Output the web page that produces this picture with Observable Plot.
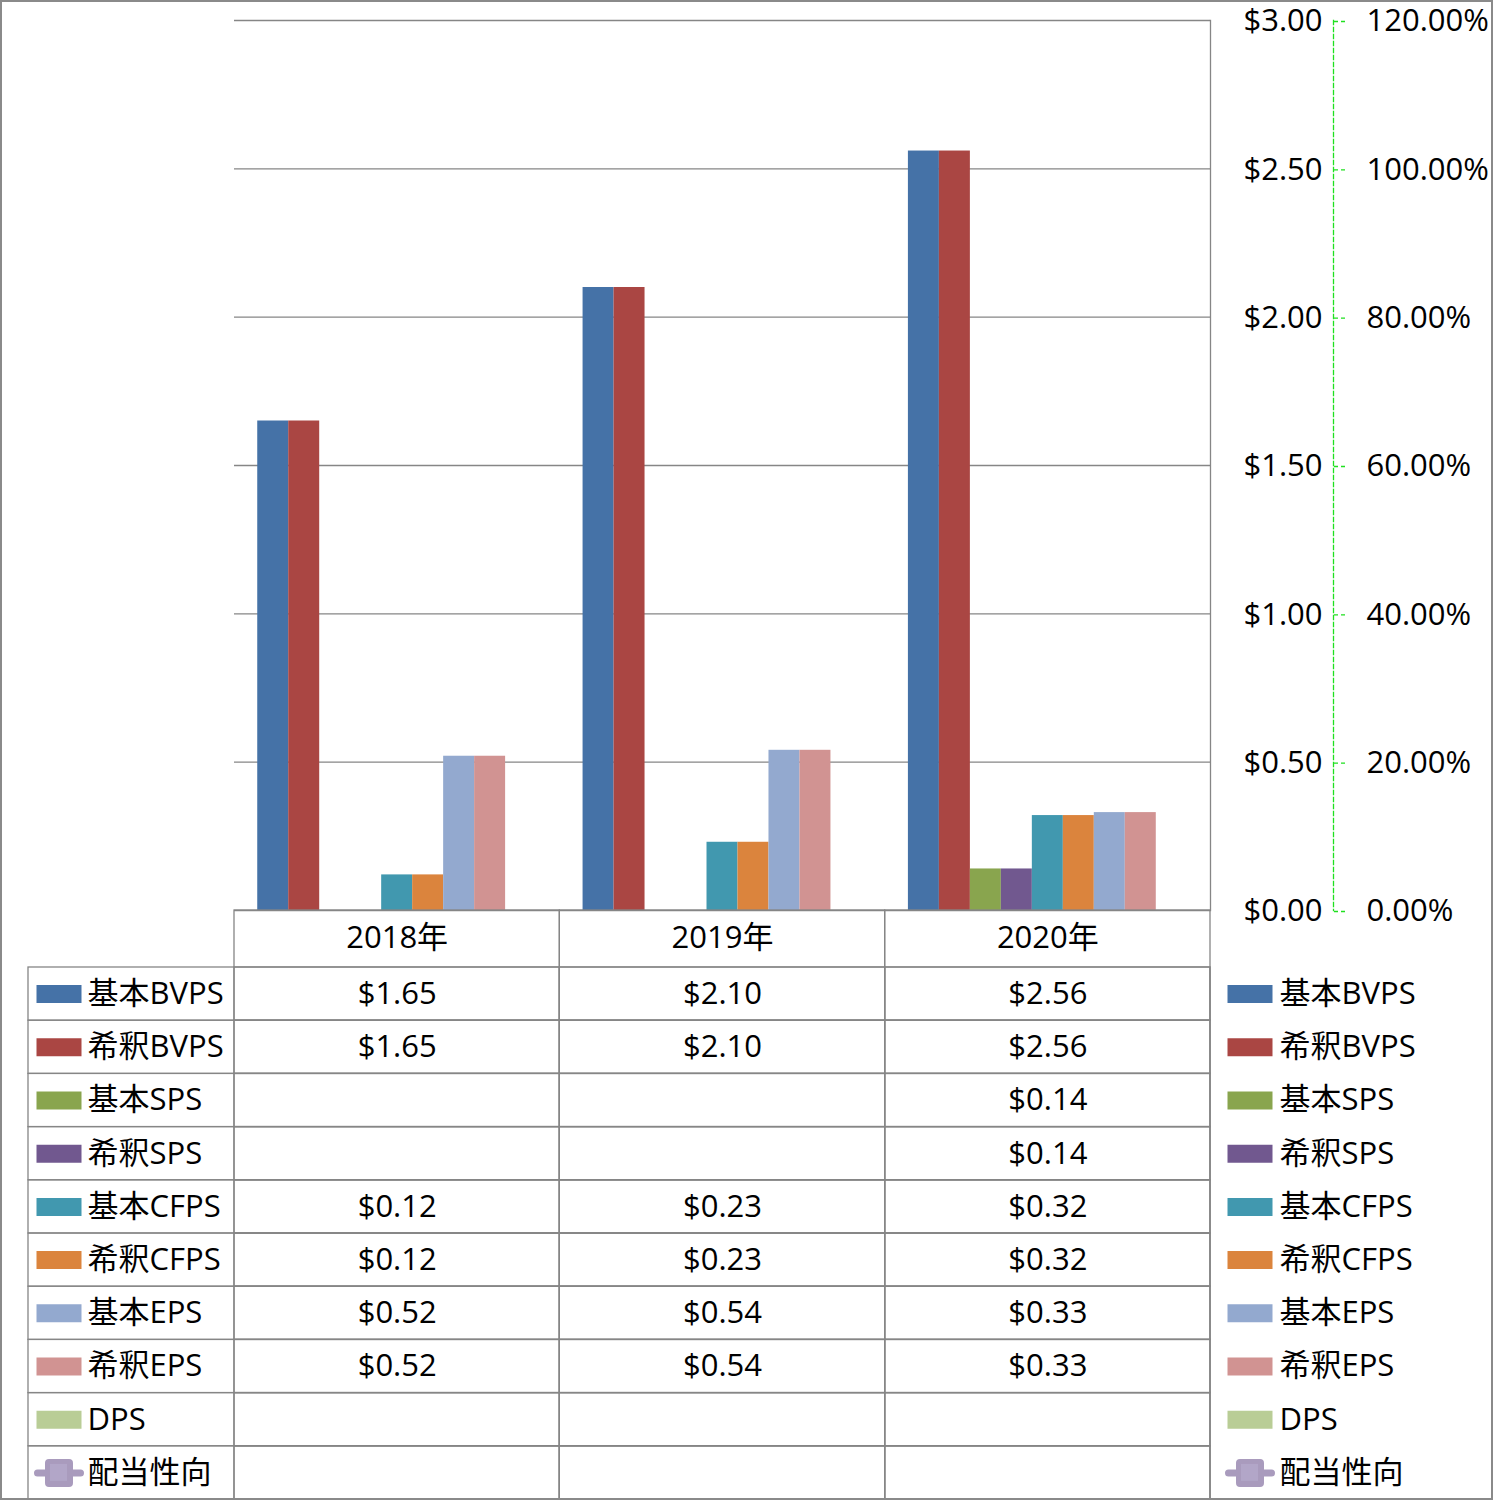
<!DOCTYPE html>
<html><head><meta charset="utf-8">
<script src="https://cdn.jsdelivr.net/npm/d3@7"></script>
<script src="https://cdn.jsdelivr.net/npm/@observablehq/plot@0.6"></script>
<style>
body{margin:0;background:#fff;}
#wrap{position:relative;width:1493px;height:1500px;overflow:hidden;background:#fff;font-family:"Open Sans","Noto Sans CJK JP",sans-serif;}
#wrap svg{position:absolute;left:0;top:0;overflow:visible;}
#border{position:absolute;left:0;top:0;width:1493px;height:1500px;box-sizing:border-box;border:2px solid #8a8a8a;pointer-events:none;z-index:10;}
</style></head><body><div id="wrap"><div id="border"></div></div>
<script>
// ---- data ----
const years = ["2018年", "2019年", "2020年"];
const seriesNames = ["基本BVPS", "希釈BVPS", "基本SPS", "希釈SPS", "基本CFPS", "希釈CFPS", "基本EPS", "希釈EPS", "DPS", "配当性向"];
const barSeries = ["基本BVPS", "希釈BVPS", "基本SPS", "希釈SPS", "基本CFPS", "希釈CFPS", "基本EPS", "希釈EPS", "DPS"];
const seriesColors = ["#4572A7", "#AA4643", "#89A54E", "#71588F", "#4198AF", "#DB843D", "#93A9CF", "#D19392", "#B9CD96", "#A99BBD"];
const basicBVPS = [1.65, 2.10, 2.56];
const dilutedBVPS = [1.65, 2.10, 2.56];
const basicSPS = [null, null, 0.14];
const dilutedSPS = [null, null, 0.14];
const basicCFPS = [0.12, 0.23, 0.32];
const dilutedCFPS = [0.12, 0.23, 0.32];
const basicEPS = [0.52, 0.54, 0.33];
const dilutedEPS = [0.52, 0.54, 0.33];
const dps = [null, null, null];
const payoutRatio = [null, null, null];
const dollarTicks = [0, 0.5, 1, 1.5, 2, 2.5, 3];
const percentTicks = [0, 0.2, 0.4, 0.6, 0.8, 1.0, 1.2];
const percentToDollar = 2.5; // secondary axis max 120% aligns with $3.00

const seriesValues = [basicBVPS, dilutedBVPS, basicSPS, dilutedSPS, basicCFPS, dilutedCFPS, basicEPS, dilutedEPS, dps, payoutRatio];
const tableData = [];
seriesNames.forEach((s, i) => years.forEach((y, j) => {
  const v = seriesValues[i][j];
  if (v != null) tableData.push({series: s, year: y, value: v});
}));
const barData = tableData.filter(d => barSeries.includes(d.series));

const W = 1493, H = 1500;
const FONT = '"Open Sans","Noto Sans CJK JP",sans-serif';
const GRID = "#868686";
const GREEN = "#1fe01f";
const FS = 31;
const wrap = document.getElementById("wrap");
const border = document.getElementById("border");

// ---- axes & grid ----
const axesPlot = Plot.plot({
  width: W, height: H, marginTop: 20, marginBottom: 590, marginLeft: 234, marginRight: 283,
  style: {background: "transparent", fontFamily: FONT, fontSize: FS + "px", color: "#000", overflow: "visible"},
  y: {domain: [0, 3], axis: null},
  marks: [
    Plot.ruleY(dollarTicks, {stroke: GRID, strokeWidth: 1.3}),
    Plot.frame({anchor: "right", stroke: GRID, strokeWidth: 1.3}),
    Plot.frame({anchor: "right", dx: 123, stroke: GREEN, strokeWidth: 1.3, strokeDasharray: "4,3"}),
    Plot.axisY(dollarTicks, {anchor: "right", tickSize: 0, tickPadding: 33, fontSize: FS, dy: 1,
      tickFormat: d => "$" + d.toFixed(2), fill: "#000", textAnchor: "start"}),
    Plot.axisY(percentTicks.map(p => p * percentToDollar), {anchor: "right", dx: 123, tickSize: 11, tickPadding: 22,
      fontSize: FS, stroke: GREEN, strokeWidth: 1.3, strokeDasharray: "4,3", fill: "#000", textAnchor: "start", dy: 1,
      tickFormat: d => (d / percentToDollar * 100).toFixed(2) + "%"})
  ]
});

// ---- bars ----
const barsPlot = Plot.plot({
  width: W, height: H, marginTop: 20, marginBottom: 590, marginLeft: 234, marginRight: 283,
  style: {background: "transparent", fontFamily: FONT, overflow: "visible"},
  fx: {domain: years, padding: 0, round: false, axis: null, label: null},
  x: {domain: barSeries, paddingInner: 0, paddingOuter: 0.75, round: false, axis: null},
  y: {domain: [0, 3], axis: null},
  color: {domain: seriesNames, range: seriesColors},
  marks: [
    Plot.barY(barData, {fx: "year", x: "series", y: "value", fill: "series"})
  ]
});

// ---- table & legends ----
const cellGrid = [];
seriesNames.forEach(r => years.forEach(y => cellGrid.push({row: r, year: y})));
const rectSym = {draw(ctx) { ctx.moveTo(-22.5, -9); ctx.lineTo(22.5, -9); ctx.lineTo(22.5, 9); ctx.lineTo(-22.5, 9); ctx.closePath(); }};
function rr(ctx, x0, y0, x1, y1, r) {
  ctx.moveTo(x0 + r, y0); ctx.lineTo(x1 - r, y0); ctx.arcTo(x1, y0, x1, y0 + r, r);
  ctx.lineTo(x1, y1 - r); ctx.arcTo(x1, y1, x1 - r, y1, r);
  ctx.lineTo(x0 + r, y1); ctx.arcTo(x0, y1, x0, y1 - r, r);
  ctx.lineTo(x0, y0 + r); ctx.arcTo(x0, y0, x0 + r, y0, r); ctx.closePath();
}
const lineSym = {draw(ctx) { rr(ctx, -25, -3.5, 25, 3.5, 3.5); rr(ctx, -14, -14, 14, 14, 4); }};
const innerSym = {draw(ctx) { ctx.moveTo(-9, -9); ctx.lineTo(8, -9); ctx.lineTo(8, 8); ctx.lineTo(-9, 8); ctx.closePath(); }};
const barLegend = seriesNames.filter(s => s !== "配当性向");
const lineLegend = ["配当性向"];

const legendMarks = (anchor, swDx, txDx) => [
  Plot.dot(barLegend, {y: d => d, frameAnchor: anchor, dx: swDx, symbol: rectSym, fill: d => d, stroke: null}),
  Plot.dot(lineLegend, {y: d => d, frameAnchor: anchor, dx: swDx, symbol: lineSym, fill: d => d, stroke: null}),
  Plot.dot(lineLegend, {y: d => d, frameAnchor: anchor, dx: swDx, symbol: innerSym, fill: "#b2a6c8", stroke: null}),
  Plot.text(seriesNames, {y: d => d, frameAnchor: anchor, dx: txDx, textAnchor: "start", text: d => d, fill: "#000", fontSize: FS})
];

const tablePlot = Plot.plot({
  width: W, height: H, marginTop: 910, marginBottom: 0, marginLeft: 28, marginRight: 283,
  style: {background: "transparent", fontFamily: FONT, fontSize: FS + "px", color: "#000", overflow: "visible"},
  x: {domain: years, range: [234, 1210], padding: 0, round: false, axis: null},
  y: {domain: seriesNames, range: [967, 1499], padding: 0, round: false, axis: null},
  color: {domain: seriesNames, range: seriesColors},
  marks: [
    Plot.cell(years, {x: d => d, fill: "none", stroke: GRID, strokeWidth: 1.3}),
    Plot.cell(seriesNames, {y: d => d, fill: "none", stroke: GRID, strokeWidth: 1.3}),
    Plot.cell(cellGrid, {x: "year", y: "row", fill: "none", stroke: GRID, strokeWidth: 1.3}),
    Plot.text(years, {x: d => d, frameAnchor: "top", lineAnchor: "middle", dy: 28, text: d => d, fill: "#000", fontSize: FS}),
    Plot.text(tableData, {x: "year", y: "series", text: d => "$" + d.value.toFixed(2), fill: "#000", fontSize: FS}),
    ...legendMarks("left", 30.5, 59),
    ...legendMarks("right", 39.5, 69)
  ]
});

wrap.insertBefore(axesPlot, border);
wrap.insertBefore(barsPlot, border);
wrap.insertBefore(tablePlot, border);
</script></body></html>
